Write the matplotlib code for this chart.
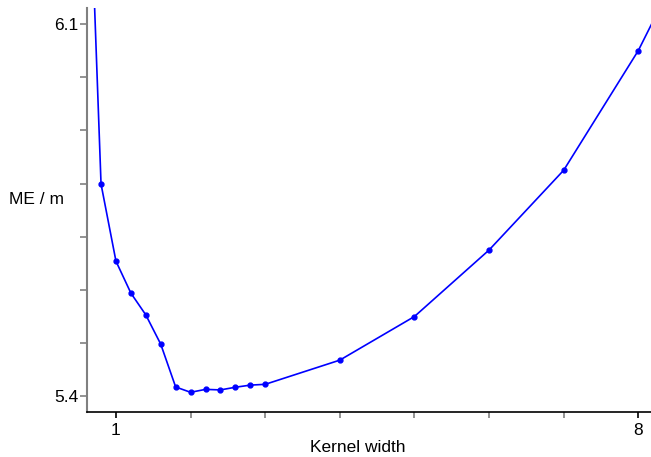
import matplotlib
matplotlib.use('Agg')
import matplotlib.pyplot as plt

# kernel width vs mean error
width = [0.6, 0.8, 1.0, 1.2, 1.4, 1.6, 1.8, 2.0, 2.2, 2.4, 2.6, 2.8, 3.0, 4, 5, 6, 7, 8, 9]
me = [6.57, 5.799, 5.654, 5.594, 5.553, 5.498, 5.4175, 5.4075, 5.413, 5.412,
      5.417, 5.421, 5.4225, 5.468, 5.55, 5.675, 5.825, 6.05, 6.33]
xticks = [1, 8]
xminor = [2, 3, 4, 5, 6, 7]
yticks = [5.4, 6.1]
yminor = [5.5, 5.6, 5.7, 5.8, 5.9, 6.0]

plt.rcParams['font.family'] = ['Liberation Sans', 'DejaVu Sans']

fig = plt.figure(figsize=(6.51, 4.57), dpi=100)
ax = fig.add_axes([0.134, 0.0985, 0.866, 0.884])
ax.plot(width, me, color='#0000ff', lw=1.2, marker='o', ms=3.5, clip_on=True)

ax.set_xlim(0.615, 8.17)
ax.set_ylim(5.3705, 6.13)

ax.spines['top'].set_visible(False)
ax.spines['right'].set_visible(False)
ax.spines['left'].set_color('#808080')
ax.spines['left'].set_linewidth(1.5)
ax.spines['bottom'].set_color('black')
ax.spines['bottom'].set_linewidth(1.2)

ax.set_xticks(xticks)
ax.set_xticks(xminor, minor=True)
ax.set_yticks(yticks)
ax.set_yticks(yminor, minor=True)
ax.set_xticklabels([str(t) for t in xticks])
ax.set_yticklabels([str(t) for t in yticks])
ax.tick_params(axis='x', which='both', direction='out', length=4.5, width=1.2,
               labelsize=12.5, pad=3.5)
ax.tick_params(axis='y', which='both', direction='out', length=5, width=1.2,
               labelsize=12.5, pad=1.5, color='#808080')
ax.tick_params(axis='x', which='major', color='black')
ax.tick_params(axis='x', which='minor', color='#808080')

fig.text(9 / 651, 1 - 200 / 457, 'ME / m', ha='left', va='center', fontsize=12.5)
fig.text(357.5 / 651, 1 - 448 / 457, 'Kernel width', ha='center', va='center', fontsize=12.5)

fig.savefig('out.png', dpi=100)
